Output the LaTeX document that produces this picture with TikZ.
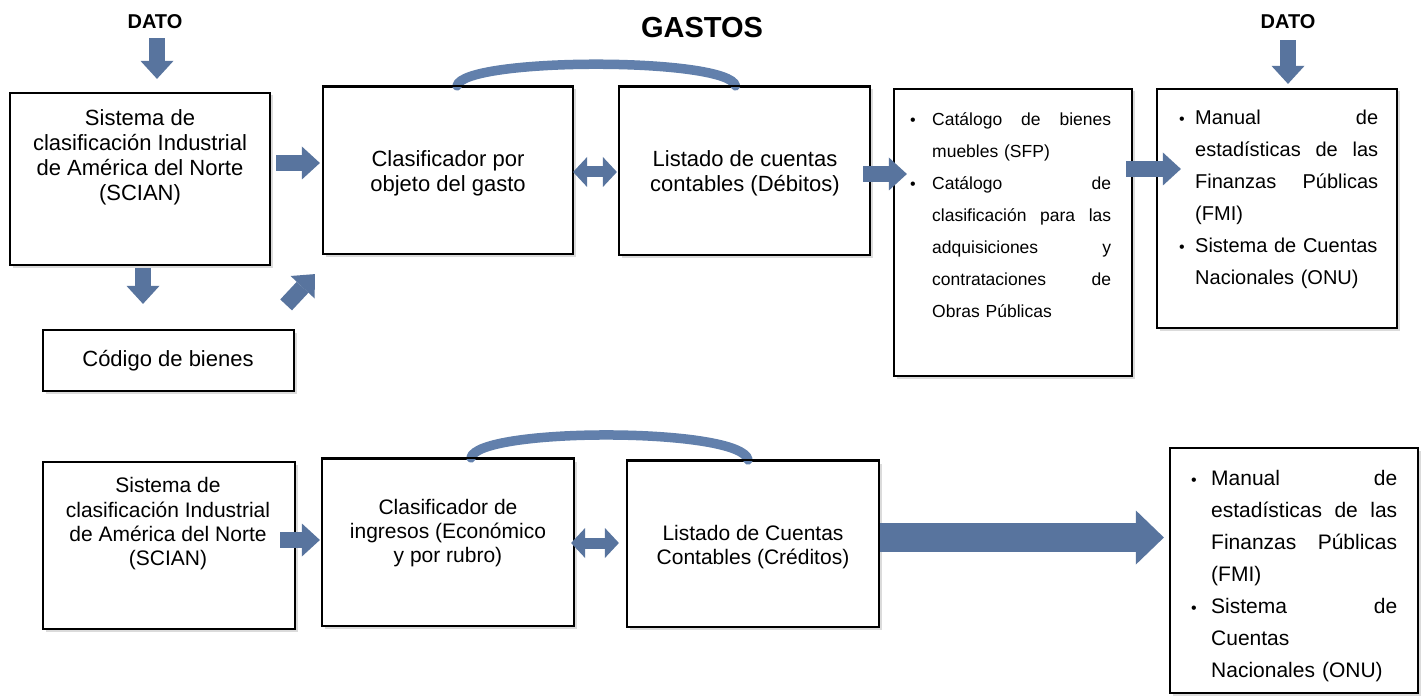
\documentclass[tikz,border=0pt]{standalone}
\usepackage{fontspec}
\setmainfont{Liberation Sans}
\usetikzlibrary{arrows.meta,shadows,calc}
\definecolor{arrowblue}{RGB}{88,116,158}
\definecolor{arcblue}{RGB}{98,128,172}
\newcommand{\bul}{{\fontsize{16}{16}\selectfont\textbullet}}
\begin{document}
\begin{tikzpicture}[x=1pt,y=-1pt,
  box/.style={draw=black, line width=2.2pt, fill=white, inner sep=0pt,
    drop shadow={shadow xshift=2.5pt, shadow yshift=-2.5pt, opacity=0.28}},
  txtA/.style={align=center, inner sep=0pt, font=\fontsize{22}{25}\selectfont},
  txtB/.style={align=center, inner sep=0pt, font=\fontsize{21}{24.3}\selectfont},
  title/.style={inner sep=0pt, font=\bfseries\fontsize{29}{32}\selectfont},
  datolbl/.style={inner sep=0pt, font=\bfseries\fontsize{20}{22}\selectfont},
  listtxt/.style={align=left, inner sep=0pt, anchor=base west},
  barrow/.style={draw=arrowblue, line width=16pt,
    -{Triangle[width=33pt,length=18pt,line width=0pt]}},
  darrow/.style={draw=arrowblue, line width=11pt,
    {Triangle[width=30pt,length=14pt,line width=0pt]}-{Triangle[width=30pt,length=14pt,line width=0pt]}},
  bigarrow/.style={draw=arrowblue, line width=29pt,
    -{Triangle[width=54pt,length=28pt,line width=0pt]}},
  arcline/.style={draw=arcblue, line width=9.5pt, line cap=round},
]
\useasboundingbox (0,0) rectangle (1428,698);
\fill[white] (0,0) rectangle (1428,698);

% titles
\node[title] (gastos) at (702,28) {GASTOS};
\node[datolbl] (dato1) at (155,22) {DATO};
\node[datolbl] (dato2) at (1288,22) {DATO};

% top row boxes
\node[box, minimum width=260pt, minimum height=172pt] (scian) at (140,179) {};
\node[box, minimum width=251pt, minimum height=61pt] (codigo) at (168.5,360.5) {};
\node[box, minimum width=250pt, minimum height=167pt] (clasg) at (448,170.5) {};
\node[box, minimum width=251pt, minimum height=168pt] (listd) at (744.5,171) {};
\node[box, minimum width=238pt, minimum height=287pt] (catal) at (1013,232.5) {};
\node[box, minimum width=240pt, minimum height=239pt] (manual) at (1277,208.5) {};

% bottom row boxes
\node[box, minimum width=252pt, minimum height=167pt] (scianb) at (169,545.5) {};
\node[box, minimum width=252pt, minimum height=167pt] (clasi) at (448,542.5) {};
\node[box, minimum width=252pt, minimum height=166pt] (listc) at (753,544) {};
\node[box, minimum width=248pt, minimum height=245pt] (manualb) at (1294,570.5) {};

% arcs
\draw[arcline] ($(clasg.north)+(9,0)$) .. controls (463,57) and (729,57) .. ($(listd.north)+(-9,0)$);
\draw[arcline] ($(clasi.north)+(23,0)$) .. controls (477,427) and (742,427) .. ($(listc.north)+(-5,0)$);
% redraw box tops over arc ends
\draw[line width=2.2pt] (clasg.north west) -- (clasg.north east);
\draw[line width=2.2pt] (listd.north west) -- (listd.north east);
\draw[line width=2.2pt] (clasi.north west) -- (clasi.north east);
\draw[line width=2.2pt] (listc.north west) -- (listc.north east);

% texts top
\node[txtA] (sciant) at (140,157) {Sistema de\\clasificación Industrial\\de América del Norte\\(SCIAN)};
\node[txtA] (codigot) at (168,361) {Código de bienes};
\node[txtA] (clasgt) at (448,173) {Clasificador por\\objeto del gasto};
\node[txtA] (listdt) at (745,173) {Listado de cuentas\\contables (Débitos)};

\node[listtxt, text width=203pt, font=\fontsize{17.5}{32}\selectfont] (catalt) at (908,126) {%
\makebox[24pt][l]{\hspace{2pt}\bul}Catálogo\hfill de\hfill bienes\\
\hspace*{24pt}muebles (SFP)\\
\makebox[24pt][l]{\hspace{2pt}\bul}Catálogo\hfill de\\
\hspace*{24pt}clasificación\hfill para\hfill las\\
\hspace*{24pt}adquisiciones\hfill y\\
\hspace*{24pt}contrataciones\hfill de\\
\hspace*{24pt}Obras Públicas};

\node[listtxt, text width=200pt, font=\fontsize{20}{32}\selectfont] (manualt) at (1178,125) {%
\makebox[17pt][l]{\hspace{1pt}\bul}Manual\hfill de\\
\hspace*{17pt}estadísticas\hfill de\hfill las\\
\hspace*{17pt}Finanzas\hfill Públicas\\
\hspace*{17pt}(FMI)\\
\makebox[17pt][l]{\hspace{1pt}\bul}\mbox{Sistema de Cuentas}\\
\hspace*{17pt}Nacionales (ONU)};

% texts bottom
\node[txtB] (scianbt) at (168,524) {Sistema de\\clasificación Industrial\\de América del Norte\\(SCIAN)};
\node[txtB] (clasit) at (448,533) {Clasificador de\\ingresos (Económico\\y por rubro)};
\node[txtB] (listct) at (753,547) {Listado de Cuentas\\Contables (Créditos)};

\node[listtxt, text width=207pt, font=\fontsize{21}{32}\selectfont] (manualbt) at (1190,485) {%
\makebox[21pt][l]{\hspace{1pt}\bul}Manual\hfill de\\
\hspace*{21pt}estadísticas\hfill de\hfill las\\
\hspace*{21pt}Finanzas\hfill Públicas\\
\hspace*{21pt}(FMI)\\
\makebox[21pt][l]{\hspace{1pt}\bul}Sistema\hfill de\\
\hspace*{21pt}Cuentas\\
\hspace*{21pt}Nacionales (ONU)};

% arrows top
\draw[barrow] ($(dato1.south)+(2,9)$) -- ($(scian.north)+(17,-13)$);
\draw[barrow] ($(scian.east)+(5,-16)$) -- ($(clasg.west)+(-2,-7.5)$);
\draw[barrow] ($(scian.south)+(3,2)$) -- ($(codigo.north)+(-25.5,-25)$);
\draw[barrow] ($(codigo.north east)+(-9,-24)$) -- ($(clasg.south west)+(-7,19)$);
\draw[darrow] ($(clasg.east)+(-1,1.5)$) -- ($(listd.west)+(-1,1)$);
\draw[barrow] ($(listd.east)+(-8,3)$) -- ($(catal.west)+(14,-58.5)$);
\draw[barrow] ($(catal.east)+(-7,-63.5)$) -- ($(manual.west)+(25,-39.5)$);
\draw[barrow] ($(dato2.south)+(0,11)$) -- ($(manual.north)+(11,-4)$);

% arrows bottom
\draw[barrow] ($(scianb.east)+(-16,-5.5)$) -- ($(clasi.west)+(-1,-2.5)$);
\draw[darrow] ($(clasi.east)+(-4,0.5)$) -- ($(listc.west)+(-7,-1)$);
\draw[bigarrow] ($(listc.east)+(0,-6.5)$) -- ($(manualb.west)+(-5,-33)$);
\end{tikzpicture}
\end{document}
